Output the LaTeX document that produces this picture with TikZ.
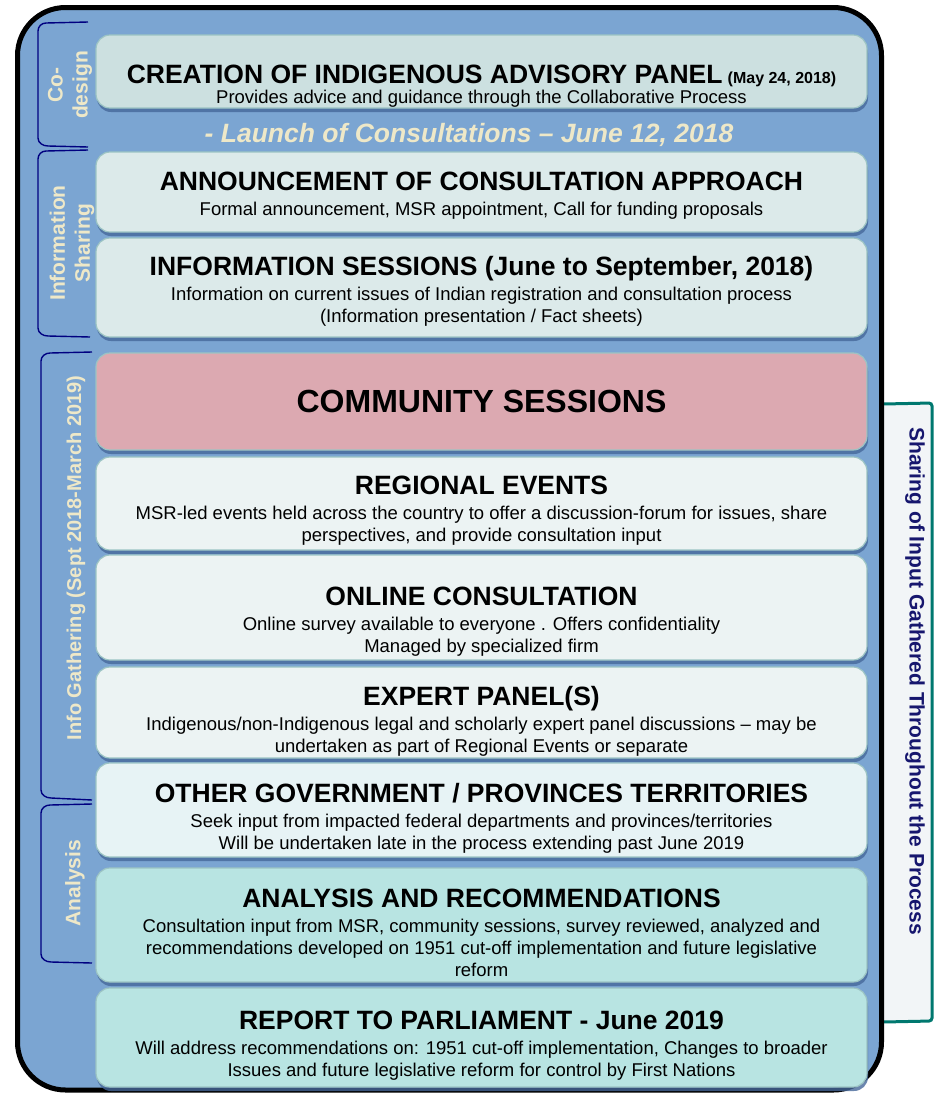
\documentclass[tikz,border=0pt]{standalone}
\usepackage{fontspec}
\setmainfont{Liberation Sans}
\usetikzlibrary{positioning,shadows}

\definecolor{frameblue}{HTML}{7BA5D2}
\definecolor{shadeblue}{HTML}{46689A}
\definecolor{edgeteal}{HTML}{9CC4C4}
\definecolor{fillcodesign}{HTML}{CCE0E0}
\definecolor{fillinfo}{HTML}{DCEAEA}
\definecolor{fillcommunity}{HTML}{DCA9B1}
\definecolor{fillgather}{HTML}{ECF3F3}
\definecolor{fillgov}{HTML}{E7F3F5}
\definecolor{fillanalysis}{HTML}{B8E4E2}
\definecolor{cream}{HTML}{EEE8C8}
\definecolor{bracenavy}{HTML}{000080}
\definecolor{sideteal}{HTML}{00786F}
\definecolor{sidefill}{HTML}{F2F5F7}
\definecolor{sidetext}{HTML}{16166E}

% title line of a stage, #1 = strut height
\newcommand{\ttl}[2][35]{\rule{0pt}{#1pt}{\fontsize{26.5}{30}\selectfont\bfseries #2}}

\begin{document}
\begin{tikzpicture}[x=1pt,y=-1pt,node distance=6pt,
    stage/.style={draw=edgeteal,line width=1.2pt,rounded corners=14pt,outer sep=0pt,
      minimum width=771pt,inner ysep=0pt,align=center,
      font=\fontsize{18.5}{22}\selectfont,
      drop shadow={shadow xshift=1pt,shadow yshift=-4pt,fill=shadeblue,opacity=.8}},
    brace/.style={draw=bracenavy,line width=1.4pt},
    phase/.style={text=cream,rotate=90,align=center,font=\fontsize{21}{25}\selectfont\bfseries}]
  \useasboundingbox (0,0) rectangle (936,1093);

  % sharing bar on the right
  \fill[sidefill] (880,404) rectangle (932,1021);
  \draw[sideteal,line width=3pt,rounded corners=3pt] (883,404) -- (932,403) -- (932,1021) -- (883,1022);
  \node[rotate=-90,text=sidetext,font=\fontsize{21}{25}\selectfont\bfseries] (sharing) at (915,681)
    {Sharing of Input Gathered  Throughout the Process};

  % frame
  \draw[line width=5pt,fill=frameblue,rounded corners=48pt] (17.5,7.5) rectangle (881.5,1090);

  % phases
  \draw[brace] (88,22) -- (46,23) to[out=180,in=90] (38,31) -- (38,138) to[out=-90,in=180] (48,146) -- (88,147);
  \draw[brace] (88,150) -- (46,151) to[out=180,in=90] (38,159) -- (38,328) to[out=-90,in=180] (48,336) -- (90,337);
  \draw[brace] (92,352) -- (50,353) to[out=180,in=90] (41,361) -- (41,790) to[out=-90,in=180] (51,798) -- (92,800);
  \draw[brace] (92,804) -- (50,805) to[out=180,in=90] (41,813) -- (41,954) to[out=-90,in=180] (51,962) -- (92,963);
  \node[phase] (codesign) at (70,85) {Co-\\design};
  \node[phase] (infoshare) at (72,243) {Information\\Sharing};
  \node[phase,font=\fontsize{20}{24}\selectfont\bfseries] (gathering) at (76,558) {Info  Gathering (Sept 2018-March 2019)};
  \node[phase] (analysisphase) at (75,883) {Analysis};

  % stages
  \node[stage,fill=fillcodesign,minimum height=73pt] (creation) at (481.5,71.5)
    {\ttl[47]{CREATION OF INDIGENOUS ADVISORY PANEL} {\fontsize{16}{18}\selectfont\bfseries (May 24, 2018)}\\[-2pt]
     Provides advice and guidance through the Collaborative Process};
  \node[text=cream,font=\fontsize{26.5}{30}\selectfont\bfseries\itshape] (launch) at (469,135)
    {- Launch of Consultations – June 12, 2018};
  \node[stage,fill=fillinfo,minimum height=80pt,below=44pt of creation] (announce)
    {\ttl[25]{ANNOUNCEMENT OF CONSULTATION APPROACH}\\[3pt]
     Formal announcement, MSR appointment, Call for funding proposals};
  \node[stage,fill=fillinfo,minimum height=99pt,below=of announce] (sessions)
    {\ttl[27]{INFORMATION SESSIONS (June to September, 2018)}\\[3pt]
     Information on current issues of Indian registration and consultation process\\
     (Information presentation / Fact sheets)};
  \node[stage,fill=fillcommunity,minimum height=97pt,below=16pt of sessions] (community)
    {\fontsize{32}{36}\selectfont\bfseries COMMUNITY SESSIONS};
  \node[stage,fill=fillgather,minimum height=93pt,below=7pt of community] (regional)
    {\ttl[33]{REGIONAL EVENTS}\\[3pt]
     MSR-led events held across the country to offer a discussion-forum for issues, share\\
     perspectives, and provide  consultation input};
  \node[stage,fill=fillgather,minimum height=105pt,below=5pt of regional] (online)
    {\ttl[46]{ONLINE CONSULTATION}\\[3pt]
     Online survey available to everyone . Offers confidentiality\\
     Managed by specialized firm};
  \node[stage,fill=fillgather,minimum height=91pt,below=7pt of online] (expert)
    {\ttl[36]{EXPERT PANEL(S)}\\[3pt]
     Indigenous/non-Indigenous legal and scholarly expert panel discussions – may be\\
     undertaken as part of Regional Events or separate};
  \node[stage,fill=fillgov,minimum height=94pt,below=5pt of expert] (government)
    {\ttl[35]{OTHER GOVERNMENT / PROVINCES TERRITORIES}\\[3pt]
     Seek input from  impacted federal departments and provinces/territories\\
     Will be undertaken late in the process extending past June 2019};
  \node[stage,fill=fillanalysis,minimum height=114pt,below=11pt of government] (analysis)
    {\ttl[35]{ANALYSIS AND RECOMMENDATIONS}\\[3pt]
     Consultation input from MSR, community sessions, survey reviewed, analyzed  and\\
     recommendations developed on 1951 cut-off implementation and future legislative\\
     reform};
  \node[stage,fill=fillanalysis,minimum height=99pt,below=of analysis] (report)
    {\ttl[34]{REPORT TO PARLIAMENT - June 2019}\\[3pt]
     Will address recommendations on: 1951 cut-off implementation, Changes to broader\\
     Issues and future legislative reform for control by First Nations};
\end{tikzpicture}
\end{document}
